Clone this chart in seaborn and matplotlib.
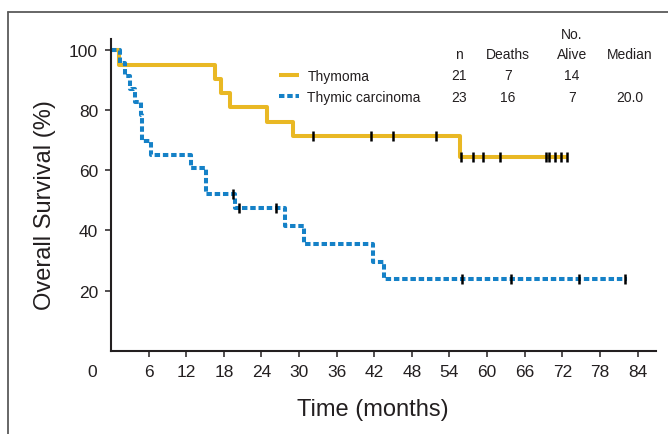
import numpy as np
import pandas as pd
import matplotlib
matplotlib.use("Agg")
import matplotlib.pyplot as plt
import seaborn as sns
from matplotlib.lines import Line2D

# ---------------- data ----------------
thy_time = [0, 1.2, 16.6, 17.5, 19.0, 24.9, 29.1, 55.7, 72.8]
thy_surv = [100, 95.2, 90.5, 85.7, 81.0, 76.2, 71.4, 64.3, 64.3]
thy_cens = [32.3, 41.5, 45.0, 51.9, 55.8, 57.7, 59.4, 62.0, 69.4, 69.9, 70.9, 71.8, 72.8]

car_time = [0, 1.4, 2.2, 3.0, 3.8, 4.8, 5.0, 6.4, 12.8, 15.2, 19.8, 27.8, 30.8, 41.8, 43.6, 82.3]
car_surv = [100, 95.7, 91.3, 87.0, 82.6, 78.3, 69.6, 65.2, 60.9, 52.2, 47.4, 41.4, 35.6, 29.4, 23.7, 23.7]
car_cens = [19.5, 20.4, 26.3, 56.0, 63.8, 74.7, 82.0]

groups = ["Thymoma", "Thymic carcinoma"]
col_headers = ["n", "Deaths", "Alive", "Median"]
n_vals = ["21", "23"]
death_vals = ["7", "16"]
alive_vals = ["14", "7"]
median_vals = ["", "20.0"]

x_ticks = list(range(6, 85, 6))
y_ticks = [20, 40, 60, 80, 100]

YEL = "#E9B824"
BLU = "#1581C7"

sns.set_style("ticks")
plt.rcParams["font.family"] = ["Liberation Sans", "DejaVu Sans"]

W, H = 668, 435
fig = plt.figure(figsize=(W / 100, H / 100), dpi=100)
ax = fig.add_axes([111 / W, 1 - 351.7 / H, (655.7 - 111) / W, (351.7 - 40) / H])


def level_at(times, survs, t):
    i = np.searchsorted(np.asarray(times), t, side="right") - 1
    return np.asarray(survs)[i]


df_thy = pd.DataFrame({"t": thy_time, "s": thy_surv})
df_car = pd.DataFrame({"t": car_time, "s": car_surv})

sns.lineplot(data=df_thy, x="t", y="s", ax=ax, drawstyle="steps-post", color=YEL,
             lw=2.9, label=groups[0], estimator=None, sort=False, solid_capstyle="butt")
sns.lineplot(data=df_car, x="t", y="s", ax=ax, drawstyle="steps-post", color=BLU,
             lw=2.9, linestyle=(0, (1.35, 0.7)), label=groups[1], estimator=None, sort=False)

cens_df = pd.DataFrame({
    "t": thy_cens + car_cens,
    "s": [level_at(thy_time, thy_surv, t) for t in thy_cens]
         + [level_at(car_time, car_surv, t) for t in car_cens],
})
sns.scatterplot(data=cens_df, x="t", y="s", ax=ax, marker="|", s=45, linewidth=1.8,
                color="black", zorder=5, legend=False)

ax.set_xlim(0, 86.9)
ax.set_ylim(0, 103.7)
ax.set_xticks(x_ticks)
ax.set_yticks(y_ticks)
sns.despine(ax=ax)
for sp in ["left", "bottom"]:
    ax.spines[sp].set_linewidth(1.5)
    ax.spines[sp].set_color("#231f20")
ax.tick_params(axis="both", length=4.3, width=1.1, color="#231f20",
               labelsize=12.5, pad=5, labelcolor="#231f20")

ax.annotate("0", xy=(0, 0), xycoords=("data", "axes fraction"),
            xytext=(-13.7, -9.6), textcoords="offset points",
            ha="center", va="top", fontsize=12.5, color="#231f20")

ax.set_xlabel("Time (months)", fontsize=17, color="#231f20")
ax.set_ylabel("Overall Survival (%)", fontsize=17, color="#231f20")
ax.xaxis.set_label_coords((373 - 111) / 544.7, -(399 - 351.7) / 311.7)
ax.yaxis.set_label_coords((56 - 111) / 544.7, (351.7 - 205) / 311.7)

leg = ax.legend(loc="upper left", bbox_to_anchor=(279 / W, 1 - 69.5 / H),
                bbox_transform=fig.transFigure, frameon=False, fontsize=10,
                handlelength=1.45, handletextpad=0.6, labelspacing=0.55,
                borderpad=0, borderaxespad=0)
for t in leg.get_texts():
    t.set_color("#231f20")


def ftext(x, y, s, **kw):
    fig.text(x / W, 1 - y / H, s, ha="center", va="center", fontsize=10,
             color="#231f20", **kw)


col_x = [459, 508, 571.7, 630]
ftext(571.7, 35, "No.")
for x, h in zip(col_x, col_headers):
    ftext(x, 55, h)
row_y = [76, 97.5]
for i, y in enumerate(row_y):
    for x, v in zip(col_x, [n_vals[i], death_vals[i], alive_vals[i], median_vals[i]]):
        if v:
            ftext(x, y, v)

# figure frame (top and left)
fig.add_artist(Line2D([8 / W, 8 / W], [0, 1 - 12.7 / H], transform=fig.transFigure,
                      color="#5a5a5a", lw=1.3))
fig.add_artist(Line2D([8 / W, 1], [1 - 12.7 / H, 1 - 12.7 / H], transform=fig.transFigure,
                      color="#5a5a5a", lw=1.3))

fig.savefig("out.png", dpi=100)
